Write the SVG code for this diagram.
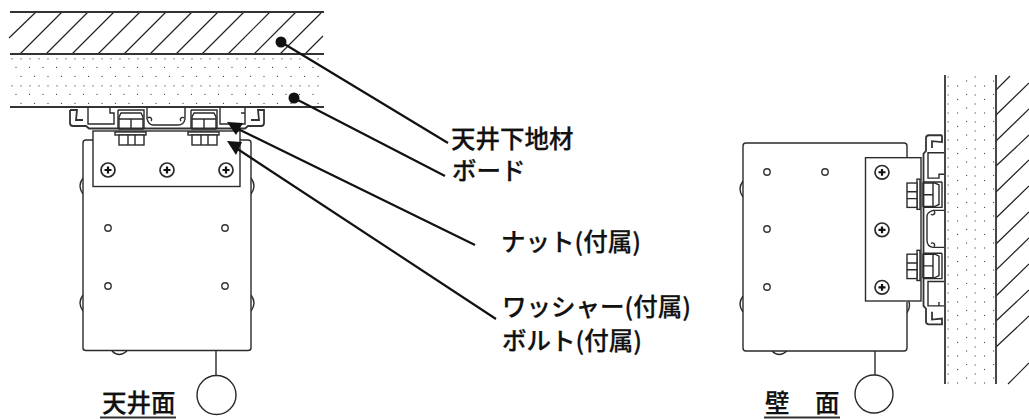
<svg xmlns="http://www.w3.org/2000/svg" width="1029" height="419" viewBox="0 0 1029 419">
<style>
.l{fill:none;stroke:#2a2a2a;stroke-width:1.4}
.w{fill:#fff;stroke:#2a2a2a;stroke-width:1.4}
.h{fill:none;stroke:#222;stroke-width:1.2}
.b{fill:none;stroke:#333;stroke-width:1.8}
.c{fill:none;stroke:#111;stroke-width:2.200}
.t{font-family:"Noto Sans CJK JP","Noto Sans",sans-serif;font-size:24.500px;font-weight:500;fill:#111;stroke:#111;stroke-width:.25}
.d{fill:#111;stroke:none}
</style>
<defs>
<pattern id="dots" width="27" height="27" patternUnits="userSpaceOnUse" x="10" y="58">
<g fill="#333"><circle cx="2" cy="0.8" r=".65"/><circle cx="11" cy="0.8" r=".65"/><circle cx="20" cy="0.8" r=".65"/><circle cx="6" cy="9.3" r=".65"/><circle cx="19.500" cy="9.3" r=".65"/><circle cx="11" cy="18.300" r=".65"/><circle cx="24.500" cy="18.300" r=".65"/></g>
</pattern>
<pattern id="dotsW" width="27" height="27" patternUnits="userSpaceOnUse" patternTransform="translate(949 75) rotate(90)">
<g fill="#333"><circle cx="2" cy="0.8" r=".65"/><circle cx="11" cy="0.8" r=".65"/><circle cx="20" cy="0.8" r=".65"/><circle cx="6" cy="9.3" r=".65"/><circle cx="19.500" cy="9.3" r=".65"/><circle cx="11" cy="18.300" r=".65"/><circle cx="24.500" cy="18.300" r=".65"/></g>
</pattern>
<g id="screw">
<circle r="7" fill="#fff" stroke="#2a2a2a" stroke-width="1.700"/>
<path d="M-3.500 0H3.500M0 -3.500V3.500" fill="none" stroke="#111" stroke-width="2.200"/>
</g>
<circle id="hole" r="3.200" fill="#fff" stroke="#333" stroke-width="1.400"/>
<g id="bolt">
<rect class="w" x="-14" y="1" width="31" height="3"/>
<rect class="w" x="-10" y="4" width="25" height="10"/>
<path class="l" d="M-1 4V14M6 4V14"/>
<path class="l" d="M-8 -18H12L14 -14V-2H-10V-14ZM-10 -12H14M2 -12V-2"/>
<path class="l" d="M-11 -21H15V-2M-11 -21V-2"/>
</g>
<g id="bracket">
<rect class="w" x="93" y="131" width="147" height="55.500"/>
<path class="b" d="M70 110H77L76 120H83M70 110V123Q70 126 73 126H86L89 128.500H245L248 126H261Q264 126 264 123V110H258L259 120H251"/>
<path class="l" d="M88 108V124H114V113H110V108M220 108V124H245V108M245 113H241"/>
<path class="l" d="M147 108V119M185 108V119M147 119Q149 125 153 125H178Q184 125 185 119M148 118a2 2 0 1 1 3 3M184 118a2 2 0 1 0 -3 3"/>
<use href="#bolt" x="129" y="131"/>
<use href="#bolt" x="202" y="131"/>
<use href="#screw" x="108" y="170"/>
<use href="#screw" x="167" y="170"/>
<use href="#screw" x="226" y="170"/>
</g>
</defs>

<g id="ceiling-slab">
<path class="h" d="M9 38L36 12M20 54L62 12M46 54L88 12M72 54L114 12M98 54L140 12M124 54L166 12M150 54L192 12M176 54L218 12M202 54L244 12M228 54L270 12M254 54L296 12M280 54L321 13M305 54L323 36"/>
<path class="b" d="M10 12H324M10 54H324"/>
</g>
<g id="ceiling-board">
<rect x="10" y="55" width="314" height="52" fill="url(#dots)"/>
<path class="b" d="M10 107H324"/>
</g>

<g id="ceiling-unit">
<path class="l" d="M83 178Q77 186 83 194M83 295Q77 303 83 311M251 178Q257 186 251 194M251 295Q257 303 251 311M112 351Q119 358 127 351"/>
<path class="w" stroke-width="1.800" d="M93 140H86Q83 140 83 143V348Q83 350.500 86 350.500H248Q251 350.500 251 348V143Q251 140 248 140H240"/>
<use href="#bracket"/>
<use href="#hole" x="108" y="228"/><use href="#hole" x="225" y="228"/>
<use href="#hole" x="108" y="286"/><use href="#hole" x="225" y="286"/>
<path class="l" d="M216 351V376"/>
<circle class="w" cx="216.500" cy="395" r="19.500"/>
</g>

<g id="wall-board">
<rect x="946" y="76" width="50" height="308" fill="url(#dotsW)"/>
<path class="b" d="M945 75V384"/>
</g>
<g id="wall-slab">
<path class="h" d="M996 90L1010 76M996 115L1029 83M996 141L1029 109M996 166L1029 135M996 192L1029 160M996 218L1029 186M996 244L1029 212M996 270L1029 238M996 296L1029 264M996 321L1029 290M996 347L1029 316M1008 384L1029 363"/>
<path class="b" d="M996 75V384"/>
</g>
<g id="wall-unit">
<path class="l" d="M743 181Q737 189 743 197M743 296Q737 304 743 312M907 297Q912 305 907 313M772 351Q779 358 787 351"/>
<path class="w" stroke-width="1.800" d="M907 157V146Q907 143 904 143H746Q743 143 743 146V348Q743 351 746 351H904Q907 351 907 348V302"/>
<use href="#bracket" transform="matrix(0 .975 -1 0 1052 67)"/>
<use href="#hole" x="767" y="172"/><use href="#hole" x="825" y="172"/>
<use href="#hole" x="767" y="229"/><use href="#hole" x="767" y="287"/>
<path class="l" d="M875 351V375"/>
<circle class="w" cx="874" cy="394" r="19"/>
</g>

<g id="connectors">
<circle class="d" cx="281" cy="42" r="5.500"/>
<circle class="d" cx="294" cy="98" r="5.500"/>
<path class="c" d="M281 42L448 143M294 98L445 176M236 128L475 245M236 148L496 319"/>
<polygon class="d" points="227,122 243,123 236,135"/>
<polygon class="d" points="227,141 242,142 236,155"/>
</g>

<g id="label-shitaji"><text class="t" x="451" y="148">天井下地材</text></g>
<g id="label-board"><text class="t" x="452" y="180">ボード</text></g>
<g id="label-nut"><text class="t" x="501" y="251">ナット(付属)</text></g>
<g id="label-washer"><text class="t" x="502" y="316">ワッシャー(付属)</text></g>
<g id="label-bolt"><text class="t" x="502" y="350">ボルト(付属)</text></g>
<g id="label-ceiling"><text class="t" x="102" y="412">天井面</text><path class="b" d="M100 417.500H176"/></g>
<g id="label-wall"><text class="t" x="765" y="412">壁</text><text class="t" x="815" y="412">面</text><path class="b" d="M764 417.500H840"/></g>
</svg>
